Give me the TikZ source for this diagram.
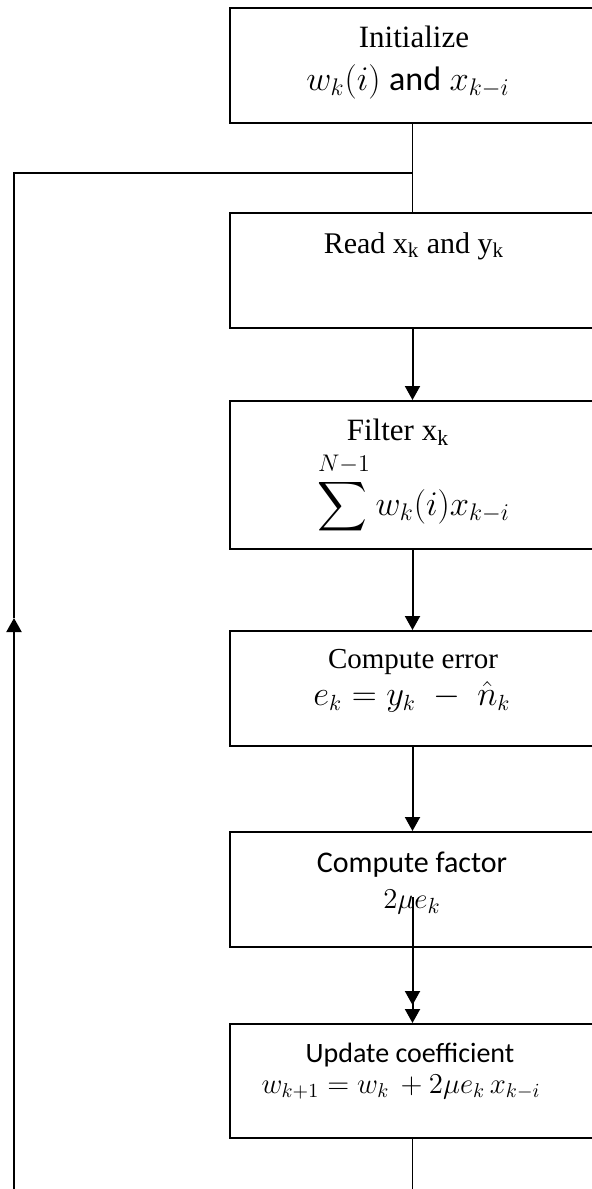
\documentclass[tikz,border=0pt]{standalone}
\usepackage{amsmath}
\usepackage{fontspec}
\setmainfont{Liberation Serif}
\newfontfamily\calibri{Carlito}
\usetikzlibrary{arrows.meta}
\begin{document}
\begin{tikzpicture}[x=0.5pt,y=-0.5pt,
  stage/.style={draw,line width=1pt,minimum width=182.5pt,inner sep=0pt,anchor=north west},
  serif/.style={anchor=base,inner sep=0pt,font=\fontsize{15}{18}\selectfont},
  sans/.style={anchor=base,inner sep=0pt,font=\calibri\fontsize{15}{18}\selectfont},
  formula/.style={anchor=base,inner sep=0pt,font=\fontsize{16}{19}\selectfont},
  link/.style={line width=0.65pt},
  flow/.style={line width=1pt,-{Triangle[length=7pt,width=7.5pt]}},
  dflow/.style={line width=1pt,-{Triangle[length=7pt,width=7.5pt,sep=2pt]Triangle[length=7pt,width=7.5pt]}}]
\useasboundingbox (0,0) rectangle (592,1189);

% process boxes (right edges run off the page)
\node[stage,minimum height=57.5pt] (init) at (229,7) {};
\node[stage,minimum height=57.5pt] (read) at (229,212) {};
\node[stage,minimum height=74pt]   (filt) at (229,400) {};
\node[stage,minimum height=57.5pt] (err)  at (229,630) {};
\node[stage,minimum height=57.5pt] (fac)  at (229,831) {};
\node[stage,minimum height=57pt]   (upd)  at (229,1023) {};

% box texts
\node[serif,font=\fontsize{15.5}{18}\selectfont] (tinit) at (414,47) {Initialize};
\node[formula,font=\fontsize{17}{20}\selectfont] (minit) at (408,90) {$w_k(i)$ {\calibri and} $x_{k-i}$};
\node[serif] (tread) at (414,253) {Read x\textsubscript{k} and y\textsubscript{k}};
\node[serif,font=\fontsize{15.5}{18}\selectfont] (tfilt) at (398,440) {Filter x\textsubscript{k}};
\node[formula,font=\fontsize{17}{20}\selectfont] (mfilt) at (412,515) {$\displaystyle\sum\limits^{\,N-1} w_k(i)x_{k-i}$};
\node[serif,font=\fontsize{14.5}{18}\selectfont] (terr) at (413,668) {Compute error};
\node[formula] (merr) at (412,705) {$e_k = y_k \; - \; \hat{n}_k$};
\node[sans] (tfac) at (412,872) {Compute factor};
\node[formula,font=\fontsize{15}{18}\selectfont] (mfac) at (412,908) {$2\mu e_k$};
\node[sans,font=\calibri\fontsize{14}{17}\selectfont] (tupd) at (410,1062) {Update coefficient};
\node[formula,font=\fontsize{14.5}{17}\selectfont] (mupd) at (401,1093) {$w_{k+1} = w_k\, + 2\mu e_k\, x_{k-i}$};

% connectors
\coordinate (join) at (init.south |- 0,173);
\coordinate (fstart) at ([yshift=25.5pt]fac.south);
\coordinate (loopend) at (upd.south |- 0,1189);
\coordinate (fbbottom) at (14,1189);
\coordinate (fbtip) at (14,618);
\coordinate (fbcorner) at (14,173);

\draw[link] (init.south) -- (read.north);
\draw[flow] (read.south) -- (filt.north);
\draw[flow] (filt.south) -- (err.north);
\draw[flow] (err.south) -- (fac.north);
\draw[dflow] (fstart) -- (upd.north);
\draw[link] (upd.south) -- (loopend);
\draw[flow] (fbbottom) -- (fbtip);
\draw[link] (fbtip) -- (fbcorner) -- (join);
\end{tikzpicture}
\end{document}
